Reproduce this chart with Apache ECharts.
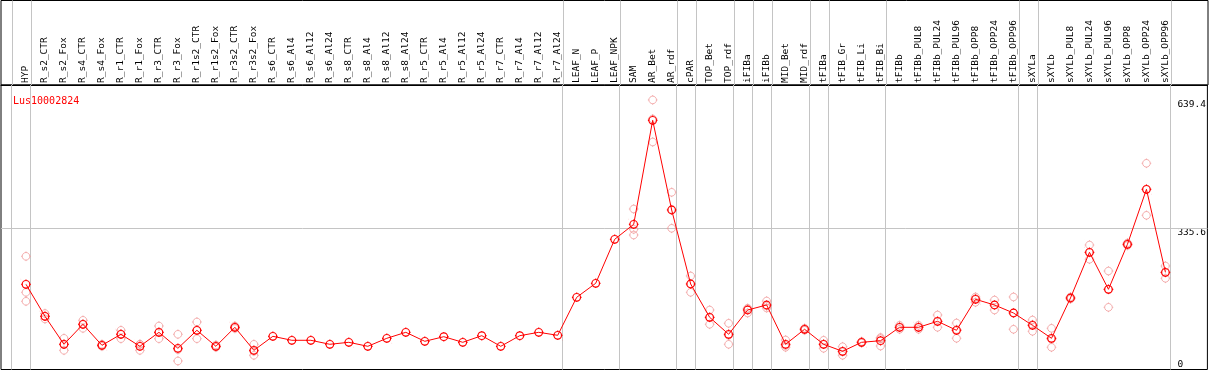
<!DOCTYPE html>
<html><head><meta charset="utf-8">
<script src="https://cdn.jsdelivr.net/npm/echarts@6/dist/echarts.min.js"></script>
<style>html,body{margin:0;padding:0;background:#fff}#c{width:1209px;height:370px}</style>
</head><body><div id="c"></div>
<script>
const chartTitle = 'Lus10002824';
const categories = ['HYP','R_s2_CTR','R_s2_Fox','R_s4_CTR','R_s4_Fox','R_r1_CTR','R_r1_Fox','R_r3_CTR','R_r3_Fox','R_r1s2_CTR','R_r1s2_Fox','R_r3s2_CTR','R_r3s2_Fox','R_s6_CTR','R_s6_Al4','R_s6_Al12','R_s6_Al24','R_s8_CTR','R_s8_Al4','R_s8_Al12','R_s8_Al24','R_r5_CTR','R_r5_Al4','R_r5_Al12','R_r5_Al24','R_r7_CTR','R_r7_Al4','R_r7_Al12','R_r7_Al24','LEAF_N','LEAF_P','LEAF_NPK','SAM','AR_Bet','AR_rdf','cPAR','TOP_Bet','TOP_rdf','iFIBa','iFIBb','MID_Bet','MID_rdf','tFIBa','tFIB_Gr','tFIB_Li','tFIB_Bi','tFIBb','tFIBb_PUL8','tFIBb_PUL24','tFIBb_PUL96','tFIBb_OPP8','tFIBb_OPP24','tFIBb_OPP96','sXYLa','sXYLb','sXYLb_PUL8','sXYLb_PUL24','sXYLb_PUL96','sXYLb_OPP8','sXYLb_OPP24','sXYLb_OPP96'];
const meanValues = [202.1,126.2,59.8,107.2,57.4,83.5,55.0,88.2,50.3,93.0,55.0,100.1,45.5,78.7,69.3,69.3,59.8,64.5,55.0,74.0,88.2,66.9,77.8,64.5,80.2,55.0,80.2,88.2,81.1,171.3,204.5,308.8,344.4,591.1,378.3,202.8,123.8,83.5,141.1,153.0,59.8,95.4,59.8,43.2,64.5,68.3,100.1,100.1,114.3,93.0,166.5,153.0,134.0,104.8,74.0,169.6,278.0,190.2,297.0,427.4,230.5];
const rep1 = [268.5,132.8,74.0,116.7,59.8,93.0,59.8,103.2,83.5,112.7,58.1,103.2,59.8,null,null,null,null,null,null,null,null,null,null,null,null,null,null,null,null,null,null,null,380.7,639.4,420.3,221.8,141.1,109.6,145.2,162.5,70.0,97.7,69.3,54.1,66.4,73.1,104.8,104.8,129.3,110.3,172.0,164.8,172.0,117.4,97.7,172.0,295.3,233.6,300.0,489.1,245.5];
const rep2 = [183.1,119.8,45.5,97.7,55.0,73.1,45.5,73.1,20.2,73.1,52.7,97.2,33.7,null,null,null,null,null,null,null,null,null,null,null,null,null,null,null,null,null,null,null,332.5,539.6,334.9,183.1,107.2,59.8,134.0,145.9,52.7,93.0,50.3,33.7,62.9,55.7,95.4,95.4,100.1,74.0,159.4,141.1,95.4,90.6,52.7,167.2,261.4,147.5,294.1,365.7,216.3];
const rep3 = [161.8,126.2,59.8,107.2,57.4,84.2,59.8,88.2,47.0,93.0,54.3,100.0,43.0,null,null,null,null,null,null,null,null,null,null,null,null,null,null,null,null,null,null,null,319.0,594.3,379.7,203.5,123.1,81.1,144.1,150.6,56.7,95.5,59.8,41.8,64.2,75.9,100.1,100.1,113.5,94.7,168.1,153.1,134.6,106.4,71.6,169.6,277.3,189.5,296.9,427.4,229.7];
const groupEnds = ['HYP','R_r7_Al24','LEAF_NPK','AR_rdf','cPAR','TOP_rdf','iFIBa','iFIBb','MID_rdf','tFIBa','tFIB_Bi','tFIBb_OPP96','sXYLa','sXYLb_OPP96'];
const yTickLabels = [335.6, 639.4];
const yZeroLabel = [0];
const refLineValue = 335.6;

const MONO = 'DejaVu Sans Mono';
const RED = '#ff0000';
const PINK = '#f09a9a';
const GRIDLINE = '#c4c4c4';
// open circle (r = 3.8 in a 10x10 box) with four short outward ticks
const sym = 'path://M5,1.2C7.1,1.2 8.8,2.9 8.8,5C8.8,7.1 7.1,8.8 5,8.8C2.9,8.8 1.2,7.1 1.2,5C1.2,2.9 2.9,1.2 5,1.2Z M5,0.2L5,1.2 M5,8.8L5,9.8 M0.2,5L1.2,5 M8.8,5L9.8,5 M0,0.01L0.01,0 M10,9.99L9.99,10';

const separators = [-0.75].concat(groupEnds.map(n => categories.indexOf(n) + 0.25));
const catIdx = categories.map((c, i) => i);
const X_MIN = -1.3158, X_MAX = 62.21, Y_MAX = 674.8;

function pts(arr) { return arr.map((v, i) => v == null ? null : [i, v]).filter(p => p); }

const chart = echarts.init(document.getElementById('c'), null, {renderer: 'canvas'});
const repSeries = [rep1, rep2, rep3].map((r, k) => ({
  type: 'scatter', name: 'rep' + (k + 1), data: pts(r), symbol: sym, symbolSize: 10, z: 2,
  xAxisIndex: 0, yAxisIndex: 0,
  itemStyle: {color: 'rgba(0,0,0,0)', borderColor: PINK, borderWidth: 1},
  emphasis: {disabled: true}, silent: true
}));
const sepLineStyle = {color: GRIDLINE, width: 1, type: 'solid'};
chart.setOption({
  animation: false,
  title: {text: chartTitle, left: 8, top: 91, textStyle: {fontFamily: MONO, fontSize: 10, fontWeight: 'normal', color: RED}},
  grid: [
    {left: 1, right: 1, top: 85, bottom: 0.5, show: true, borderColor: '#000', borderWidth: 1},
    {left: 1, right: 1, top: 0.5, height: 84.5, show: true, borderColor: '#000', borderWidth: 1}
  ],
  xAxis: [{
    gridIndex: 0, type: 'value', min: X_MIN, max: X_MAX, position: 'top',
    axisLine: {show: true, onZero: false, lineStyle: {color: '#000', width: 1}},
    axisTick: {show: false}, splitLine: {show: false}, axisLabel: {show: false}
  }, {
    gridIndex: 1, type: 'value', min: X_MIN, max: X_MAX, position: 'bottom',
    axisLine: {show: false, onZero: false}, axisTick: {show: false}, splitLine: {show: false},
    axisLabel: {customValues: catIdx, inside: true, rotate: 90, margin: 2, fontFamily: MONO, fontSize: 9.5, color: '#000',
      formatter: v => categories[Math.round(v)] || ''}
  }],
  yAxis: [{
    gridIndex: 0, type: 'value', min: 0, max: Y_MAX, position: 'right',
    axisLine: {show: false}, axisTick: {show: false}, splitLine: {show: false},
    axisLabel: {customValues: yTickLabels, inside: true, margin: 30, align: 'left', verticalAlign: 'top',
      fontFamily: MONO, fontSize: 9.5, color: '#000', formatter: v => String(v)}
  }, {
    gridIndex: 0, type: 'value', min: 0, max: Y_MAX, position: 'right',
    axisLine: {show: false}, axisTick: {show: false}, splitLine: {show: false},
    axisLabel: {customValues: yZeroLabel, inside: true, margin: 30, align: 'left', verticalAlign: 'bottom',
      fontFamily: MONO, fontSize: 9.5, color: '#000', formatter: v => String(v)}
  }, {
    gridIndex: 1, type: 'value', min: 0, max: 1, show: false
  }],
  series: repSeries.concat([{
    type: 'line', name: 'mean', data: pts(meanValues), symbol: sym, symbolSize: 10, z: 3,
    xAxisIndex: 0, yAxisIndex: 0,
    lineStyle: {color: RED, width: 1},
    itemStyle: {color: 'rgba(0,0,0,0)', borderColor: RED, borderWidth: 1.2},
    emphasis: {disabled: true}, silent: true,
    markLine: {
      silent: true, symbol: 'none', label: {show: false}, z: 1, lineStyle: sepLineStyle,
      data: separators.map(s => ({xAxis: s})).concat([{yAxis: refLineValue}])
    }
  }, {
    type: 'line', name: 'labelBand', data: [], xAxisIndex: 1, yAxisIndex: 2, silent: true,
    markLine: {
      silent: true, symbol: 'none', label: {show: false}, z: 1, lineStyle: sepLineStyle,
      data: separators.map(s => ({xAxis: s}))
    }
  }])
});
</script></body></html>
